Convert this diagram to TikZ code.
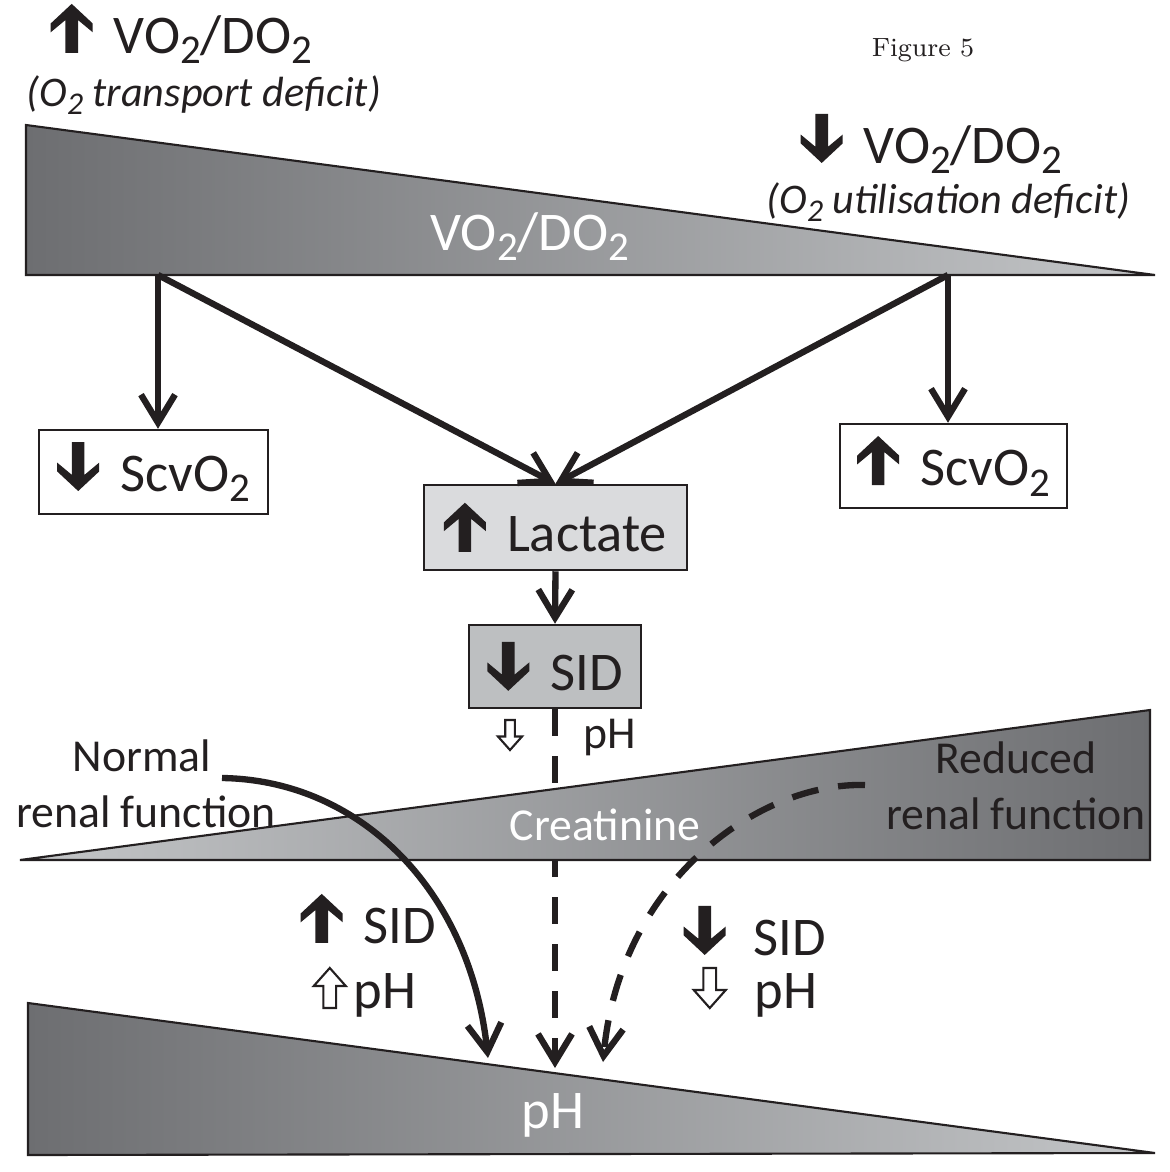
\documentclass[tikz,border=0pt]{standalone}
\usepackage{fontspec}
\setsansfont{Carlito}
\usetikzlibrary{arrows.meta}
\definecolor{shdark}{HTML}{6D6E71}
\definecolor{shlight}{HTML}{C4C6C8}
\definecolor{lactfill}{HTML}{DADBDD}
\definecolor{sidfill}{HTML}{BDBFC1}
\definecolor{ink}{HTML}{231F20}
% subscript as in the figure (big and low)
\newcommand{\subs}[1]{\raisebox{-0.2em}{\scalebox{0.75}{#1}}}
% filled chevron arrows
\newcommand{\solidup}{\tikz[baseline={(0,0.12)},x=0.42cm,y=0.49cm]\fill[ink] (0.5,1) -- (0,0.6) -- (0,0.42) -- (0.35,0.67) -- (0.35,0) -- (0.65,0) -- (0.65,0.67) -- (1,0.42) -- (1,0.6) -- cycle;}
\newcommand{\soliddown}{\tikz[baseline={(0,0.05)},x=0.42cm,y=0.49cm]\fill[ink] (0.5,0) -- (0,0.4) -- (0,0.58) -- (0.35,0.33) -- (0.35,1) -- (0.65,1) -- (0.65,0.33) -- (1,0.58) -- (1,0.4) -- cycle;}
% open arrows
\newcommand{\hollowup}[1][1]{\tikz[baseline=0pt,x=0.32cm,y=0.40cm,scale=#1]\filldraw[fill=white,draw=ink,line width=0.6pt] (0.5,1) -- (0,0.55) -- (0.3,0.55) -- (0.3,0) -- (0.7,0) -- (0.7,0.55) -- (1,0.55) -- cycle;}
\newcommand{\hollowdown}[1][1]{\tikz[baseline=0pt,x=0.32cm,y=0.40cm,scale=#1]\filldraw[fill=white,draw=ink,line width=0.6pt] (0.5,0) -- (0,0.45) -- (0.3,0.45) -- (0.3,1) -- (0.7,1) -- (0.7,0.45) -- (1,0.45) -- cycle;}
\tikzset{
  conn/.style={draw=ink, line width=1.8pt, -{Straight Barb[length=2.8mm,width=3.4mm]}},
  dashconn/.style={conn, dash pattern=on 0.27cm off 0.2cm},
  wedge/.style={draw=ink, line width=0.6pt},
  box/.style={draw=ink, line width=0.7pt, inner sep=0pt, text=ink, font=\sffamily\fontsize{15.5}{18}\selectfont},
  bigtxt/.style={inner sep=0pt, text=ink, font=\sffamily\fontsize{15.5}{18}\selectfont},
  midtxt/.style={inner sep=0pt, text=ink, font=\sffamily\fontsize{13}{15.6}\selectfont},
  ittxt/.style={inner sep=0pt, text=ink, font=\sffamily\itshape\fontsize{12}{14.4}\selectfont},
}

\begin{document}
\begin{tikzpicture}[x=0.01cm,y=-0.01cm]
    \useasboundingbox (0,0) rectangle (1170,1172);

    % VO2/DO2 wedge
    \shadedraw[wedge, left color=shdark, right color=shlight] (26,125) -- (26,275) -- (1155,275) -- cycle;
    \node[bigtxt, text=white, anchor=base] (vdwedge) at (530,250) {VO\subs{2}/DO\subs{2}};

    % pH wedge
    \shadedraw[wedge, left color=shdark, right color=shlight] (28,1003) -- (28,1155) -- (1155,1153) -- cycle;
    \node[bigtxt, text=white, anchor=base] (phwedge) at (553,1128) {pH};

    % headings
    \node[bigtxt, anchor=base west] (vdup) at (50,53) {\solidup\hspace{6pt}VO\subs{2}/DO\subs{2}};
    \node[ittxt, anchor=base west] (transp) at (26,106) {(O\subs{2} transport deficit)};
    \node[bigtxt, anchor=base west] (vddown) at (800,163) {\soliddown\hspace{6pt}VO\subs{2}/DO\subs{2}};
    \node[ittxt, anchor=base west] (util) at (766,213) {(O\subs{2} utilisation deficit)};
    \node[font=\rmfamily\fontsize{7.5}{9}\selectfont, text=ink] (fig) at (923,50) {Figure 5};

    % boxes
    \node[box, minimum width=2.29cm, minimum height=0.84cm] (scvlo) at (153.5,472) {\soliddown\hspace{6pt}ScvO\subs{2}};
    \node[box, minimum width=2.27cm, minimum height=0.84cm] (scvhi) at (953.5,466) {\solidup\hspace{6pt}ScvO\subs{2}};
    \node[box, fill=lactfill, minimum width=2.63cm, minimum height=0.85cm] (lact) at (555.5,527.5) {\solidup\hspace{6pt}Lactate};
    \node[box, fill=sidfill, minimum width=1.72cm, minimum height=0.83cm] (sid) at (555,666.5) {\soliddown\hspace{6pt}SID};

    \coordinate (vl) at (158,275);
    \coordinate (vr) at (948,275);
    \draw[conn] (vl) -- (vl |- scvlo.north);
    \draw[conn] (vl) -- (lact.north);
    \draw[conn] (vr) -- (lact.north);
    \draw[conn] (vr) -- (vr |- scvhi.north);
    \draw[conn] (lact.south) -- (sid.north);

    % to pH
    \coordinate (phn) at (488,1058);
    \coordinate (phm) at (555,1068);
    \coordinate (phd) at (603,1062);
    \draw[dashconn] (sid.south) -- (sid.south |- phm);

    % creatinine wedge
    \shadedraw[wedge, left color=shlight, right color=shdark] (20,860) -- (1150,860) -- (1150,710) -- cycle;
    \node[midtxt, text=white, anchor=base] (creat) at (605,840) {Creatinine};

    \node[inner sep=0pt] (phsmall) at (510,735) {\hollowdown[0.75]};
    \node[midtxt, anchor=base] (phlbl) at (610,748) {pH};

    \node[midtxt, anchor=base] (norm1) at (142,771) {Normal};
    \node[midtxt, anchor=base] (norm2) at (146,827) {renal function};
    \node[midtxt, anchor=base] (red1) at (1016,773) {Reduced};
    \node[midtxt, anchor=base] (red2) at (1016,829) {renal function};

    \coordinate (nstart) at (222,778);
    \coordinate (rstart) at (865,785);
    \draw[conn] (nstart) .. controls (360,780) and (470,890) .. (phn);
    \draw[dashconn] (rstart) .. controls (760,782) and (620,880) .. (phd);

    % SID / pH labels
    \node[bigtxt, anchor=base west] (sidup) at (300,943) {\solidup\hspace{6pt}SID};
    \node[bigtxt, anchor=base west] (phup) at (312,1008) {\hollowup\hspace{2pt}pH};
    \node[bigtxt, anchor=base west] (siddown) at (683,955) {\soliddown\hspace{8pt}SID};
    \node[bigtxt, anchor=base west] (phdown) at (692,1008) {\hollowdown\hspace{8pt}pH};
\end{tikzpicture}
\end{document}
